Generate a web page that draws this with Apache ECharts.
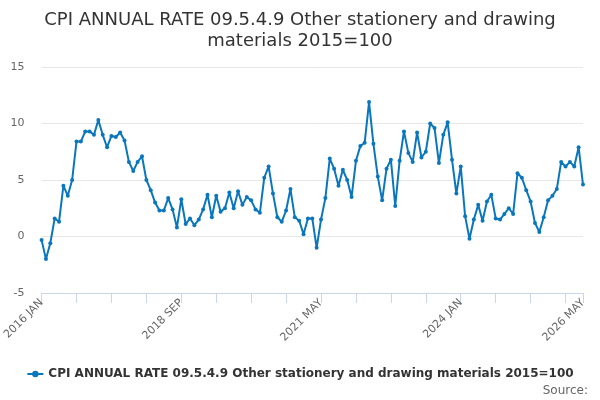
<!DOCTYPE html>
<html>
<head>
<meta charset="utf-8">
<script src="https://cdn.jsdelivr.net/npm/echarts@6/dist/echarts.min.js"></script>
<style>
  html, body { margin: 0; padding: 0; background: #fff; }
  #main { width: 600px; height: 400px; }
</style>
</head>
<body>
<div id="main"></div>
<script>
// monthly categories, 2016 JAN .. 2026 MAY
var monthNames = ['JAN', 'FEB', 'MAR', 'APR', 'MAY', 'JUN', 'JUL', 'AUG', 'SEP', 'OCT', 'NOV', 'DEC'];
var startYear = 2016;
var pointCount = 125;

var rates2016to2020 = [
  -0.3, -2.0, -0.6, 1.6, 1.3, 4.5, 3.6, 5.0, 8.4, 8.4, 9.3, 9.3,
  9.0, 10.3, 9.0, 7.9, 8.9, 8.8, 9.2, 8.5, 6.6, 5.8, 6.6, 7.1,
  5.0, 4.1, 3.0, 2.3, 2.3, 3.4, 2.4, 0.8, 3.3, 1.1, 1.6, 1.0,
  1.5, 2.4, 3.7, 1.7, 3.6, 2.2, 2.5, 3.9, 2.5, 4.0, 2.8, 3.5,
  3.2, 2.4, 2.1, 5.2, 6.2, 3.8, 1.7, 1.3, 2.3, 4.2, 1.7, 1.4
];
var rates2021to2026 = [
  0.2, 1.6, 1.6, -1.0, 1.5, 3.4, 6.9, 6.0, 4.5, 5.9, 5.0, 3.5,
  6.7, 8.0, 8.3, 11.9, 8.2, 5.3, 3.2, 6.0, 6.8, 2.7, 6.7, 9.3,
  7.4, 6.6, 9.2, 7.0, 7.5, 10.0, 9.6, 6.5, 9.0, 10.1, 6.8, 3.8,
  6.2, 1.8, -0.2, 1.5, 2.8, 1.4, 3.1, 3.7, 1.6, 1.5, 2.0, 2.5,
  2.0, 5.6, 5.2, 4.1, 3.1, 1.2, 0.4, 1.7, 3.2, 3.6, 4.2, 6.6,
  6.2, 6.6, 6.2, 7.9, 4.6
];
var rates = rates2016to2020.concat(rates2021to2026);

var yTicks = { min: -5, max: 15, step: 5 };

var months = [];
for (var i = 0; i < pointCount; i++) {
  months.push((startYear + Math.floor(i / 12)) + ' ' + monthNames[i % 12]);
}
var lastIdx = pointCount - 1;

var seriesName = 'CPI ANNUAL RATE 09.5.4.9 Other stationery and drawing materials 2015=100';
var lineColor = '#0a77bd';
var font = 'DejaVu Sans';

var myChart = echarts.init(document.getElementById('main'), null, { renderer: 'canvas' });
myChart.setOption({
  animation: false,
  backgroundColor: '#ffffff',
  title: {
    text: 'CPI ANNUAL RATE 09.5.4.9 Other stationery and drawing\nmaterials 2015=100',
    left: 'center',
    top: 5,
    textStyle: {
      fontFamily: font,
      fontSize: 18,
      fontWeight: 'normal',
      color: '#333333',
      lineHeight: 21
    }
  },
  grid: {
    left: 40,
    right: 17,
    top: 67,
    bottom: 107,
    containLabel: false
  },
  legend: {
    bottom: 15,
    left: 'center',
    itemWidth: 16,
    itemHeight: 8,
    itemGap: 10,
    data: [seriesName],
    textStyle: {
      fontFamily: font,
      fontSize: 12,
      fontWeight: 'bold',
      color: '#333333'
    }
  },
  graphic: [{
    type: 'text',
    right: 12,
    bottom: 3,
    style: {
      text: 'Source:',
      fontFamily: font,
      fontSize: 12,
      fill: '#666666'
    }
  }],
  xAxis: {
    type: 'category',
    boundaryGap: false,
    data: months,
    axisLine: { onZero: false, lineStyle: { color: '#ccd6eb', width: 1 } },
    axisTick: {
      alignWithLabel: true,
      length: 10,
      lineStyle: { color: '#ccd6eb' },
      interval: function (idx) { return idx % 8 === 0 || idx === lastIdx; }
    },
    axisLabel: {
      rotate: 45,
      margin: 8,
      fontFamily: font,
      fontSize: 11,
      color: '#666666',
      interval: function (idx) { return idx % 32 === 0 || idx === lastIdx; }
    },
    splitLine: { show: false }
  },
  yAxis: {
    type: 'value',
    min: yTicks.min,
    max: yTicks.max,
    interval: yTicks.step,
    axisLine: { show: false },
    axisTick: { show: false },
    axisLabel: {
      margin: 17,
      fontFamily: font,
      fontSize: 11,
      color: '#666666'
    },
    splitLine: { lineStyle: { color: '#e6e6e6', width: 1 } }
  },
  series: [{
    name: seriesName,
    type: 'line',
    data: rates,
    symbol: 'circle',
    symbolSize: 4,
    showAllSymbol: true,
    itemStyle: { color: lineColor },
    lineStyle: { color: lineColor, width: 2 }
  }]
});
</script>
</body>
</html>
